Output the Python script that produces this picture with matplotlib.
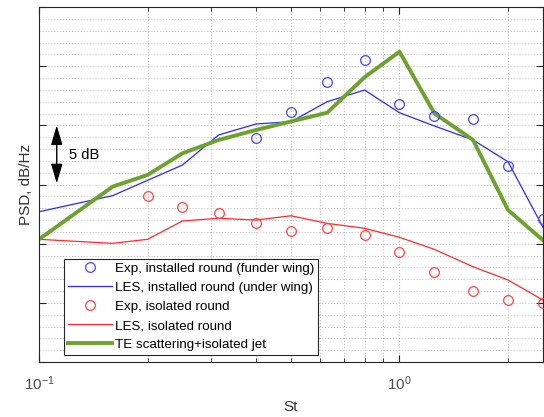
import numpy as np
import matplotlib
matplotlib.use('Agg')
import matplotlib.pyplot as plt
from matplotlib.ticker import LogLocator, MultipleLocator, NullFormatter

plt.rcParams['font.family'] = ['Liberation Sans', 'DejaVu Sans']

# Strouhal number bands (1/3 octave)
st_exp = [0.4, 0.5, 0.63, 0.8, 1.0, 1.25, 1.6, 2.0, 2.5]
exp_installed = [18.96, 21.15, 23.67, 25.5, 21.83, 20.8, 20.5, 16.6, 12.1]

st_exp_iso = [0.2, 0.25, 0.315, 0.4, 0.5, 0.63, 0.8, 1.0, 1.25, 1.6, 2.0, 2.5]
exp_isolated = [14.06, 13.08, 12.57, 11.77, 11.07, 11.35, 10.76, 9.27, 7.58, 5.97, 5.24, 4.96]

st_les_inst = [0.1, 0.16, 0.25, 0.315, 0.4, 0.5, 0.63, 0.8, 1.0, 1.25, 1.6, 2.0, 2.5]
les_installed = [12.7, 14.06, 16.65, 19.19, 20.12, 20.31, 22.0, 22.99, 21.07, 19.95, 18.77, 16.93, 11.4]

st_les_iso = [0.1, 0.16, 0.2, 0.25, 0.315, 0.4, 0.5, 0.63, 0.8, 1.0, 1.25, 1.6, 2.0, 2.5]
les_isolated = [10.37, 10.03, 10.37, 11.92, 12.15, 12.0, 12.36, 11.72, 11.3, 10.54, 9.52, 8.05, 6.93, 5.24]

st_te = [0.1, 0.16, 0.2, 0.25, 0.315, 0.4, 0.5, 0.63, 0.8, 1.0, 1.25, 1.6, 2.0, 2.5]
te_scatter = [10.37, 14.82, 15.81, 17.64, 18.77, 19.61, 20.33, 21.07, 24.07, 26.23, 21.02, 18.77, 12.85, 10.3]

fig = plt.figure(figsize=(5.44, 4.17), dpi=100)
ax = fig.add_axes([0.0717, 0.1319, 0.9263, 0.8511])

ax.plot(st_exp, exp_installed, 'o', color='#4646ff', mfc='none', ms=7, mew=0.9,
        label='Exp, installed round (funder wing)', clip_on=False, zorder=4)
ax.plot(st_les_inst, les_installed, '-', color='#2a2aff', lw=0.9,
        label='LES, installed round (under wing)')
ax.plot(st_exp_iso, exp_isolated, 'o', color='#ff4646', mfc='none', ms=7, mew=0.9,
        label='Exp, isolated round', clip_on=False, zorder=4)
ax.plot(st_les_iso, les_isolated, '-', color='#ff2a2a', lw=0.9,
        label='LES, isolated round')
ax.plot(st_te, te_scatter, '-', color='#6ea22e', lw=2.8,
        label='TE scattering+isolated jet')

ax.set_xscale('log')
ax.set_xlim(0.1, 2.5)
ax.set_ylim(0, 30)

ax.xaxis.set_major_locator(LogLocator(base=10, numticks=5))
ax.xaxis.set_minor_locator(LogLocator(base=10, subs=np.arange(2, 10), numticks=10))
ax.xaxis.set_minor_formatter(NullFormatter())
ax.yaxis.set_major_locator(MultipleLocator(5))
ax.yaxis.set_minor_locator(MultipleLocator(1))
ax.yaxis.set_major_formatter(NullFormatter())

ax.tick_params(which='both', direction='in', top=True, right=True, colors='#262626',
               labelcolor='#4d4d4d', labelsize=11)
ax.tick_params(which='major', length=5)
ax.tick_params(which='minor', length=0, top=True, right=True)
ax.tick_params(axis='x', which='minor', length=3)
ax.tick_params(axis='x', pad=9)
for s in ax.spines.values():
    s.set_color('#262626')
    s.set_linewidth(0.8)

ax.grid(True, which='both', linestyle=':', color='#c8c8c8', linewidth=0.8)
ax.set_axisbelow(True)

ax.set_xlabel('St', fontsize=11, color='#333333', labelpad=5)
ax.set_ylabel('PSD, dB/Hz', fontsize=11, color='#333333', labelpad=1)

# 5 dB scale arrow
ax.annotate('', xy=(0.112, 15.1), xytext=(0.112, 20.0),
            arrowprops=dict(arrowstyle='<|-|>,head_length=0.85,head_width=0.25',
                            color='black', lw=1.0,
                            mutation_scale=14, shrinkA=0, shrinkB=0))
ax.text(0.121, 17.5, '5 dB', fontsize=10.5, va='center', ha='left')

leg = ax.legend(loc='lower left', bbox_to_anchor=(0.045, 0.012), fontsize=9.6,
                fancybox=False, framealpha=1, edgecolor='#262626',
                borderpad=0.3, labelspacing=0.5, handlelength=3.3,
                handletextpad=0.2, borderaxespad=0.2)
leg.get_frame().set_linewidth(0.8)

fig.savefig('out.png', dpi=100)
